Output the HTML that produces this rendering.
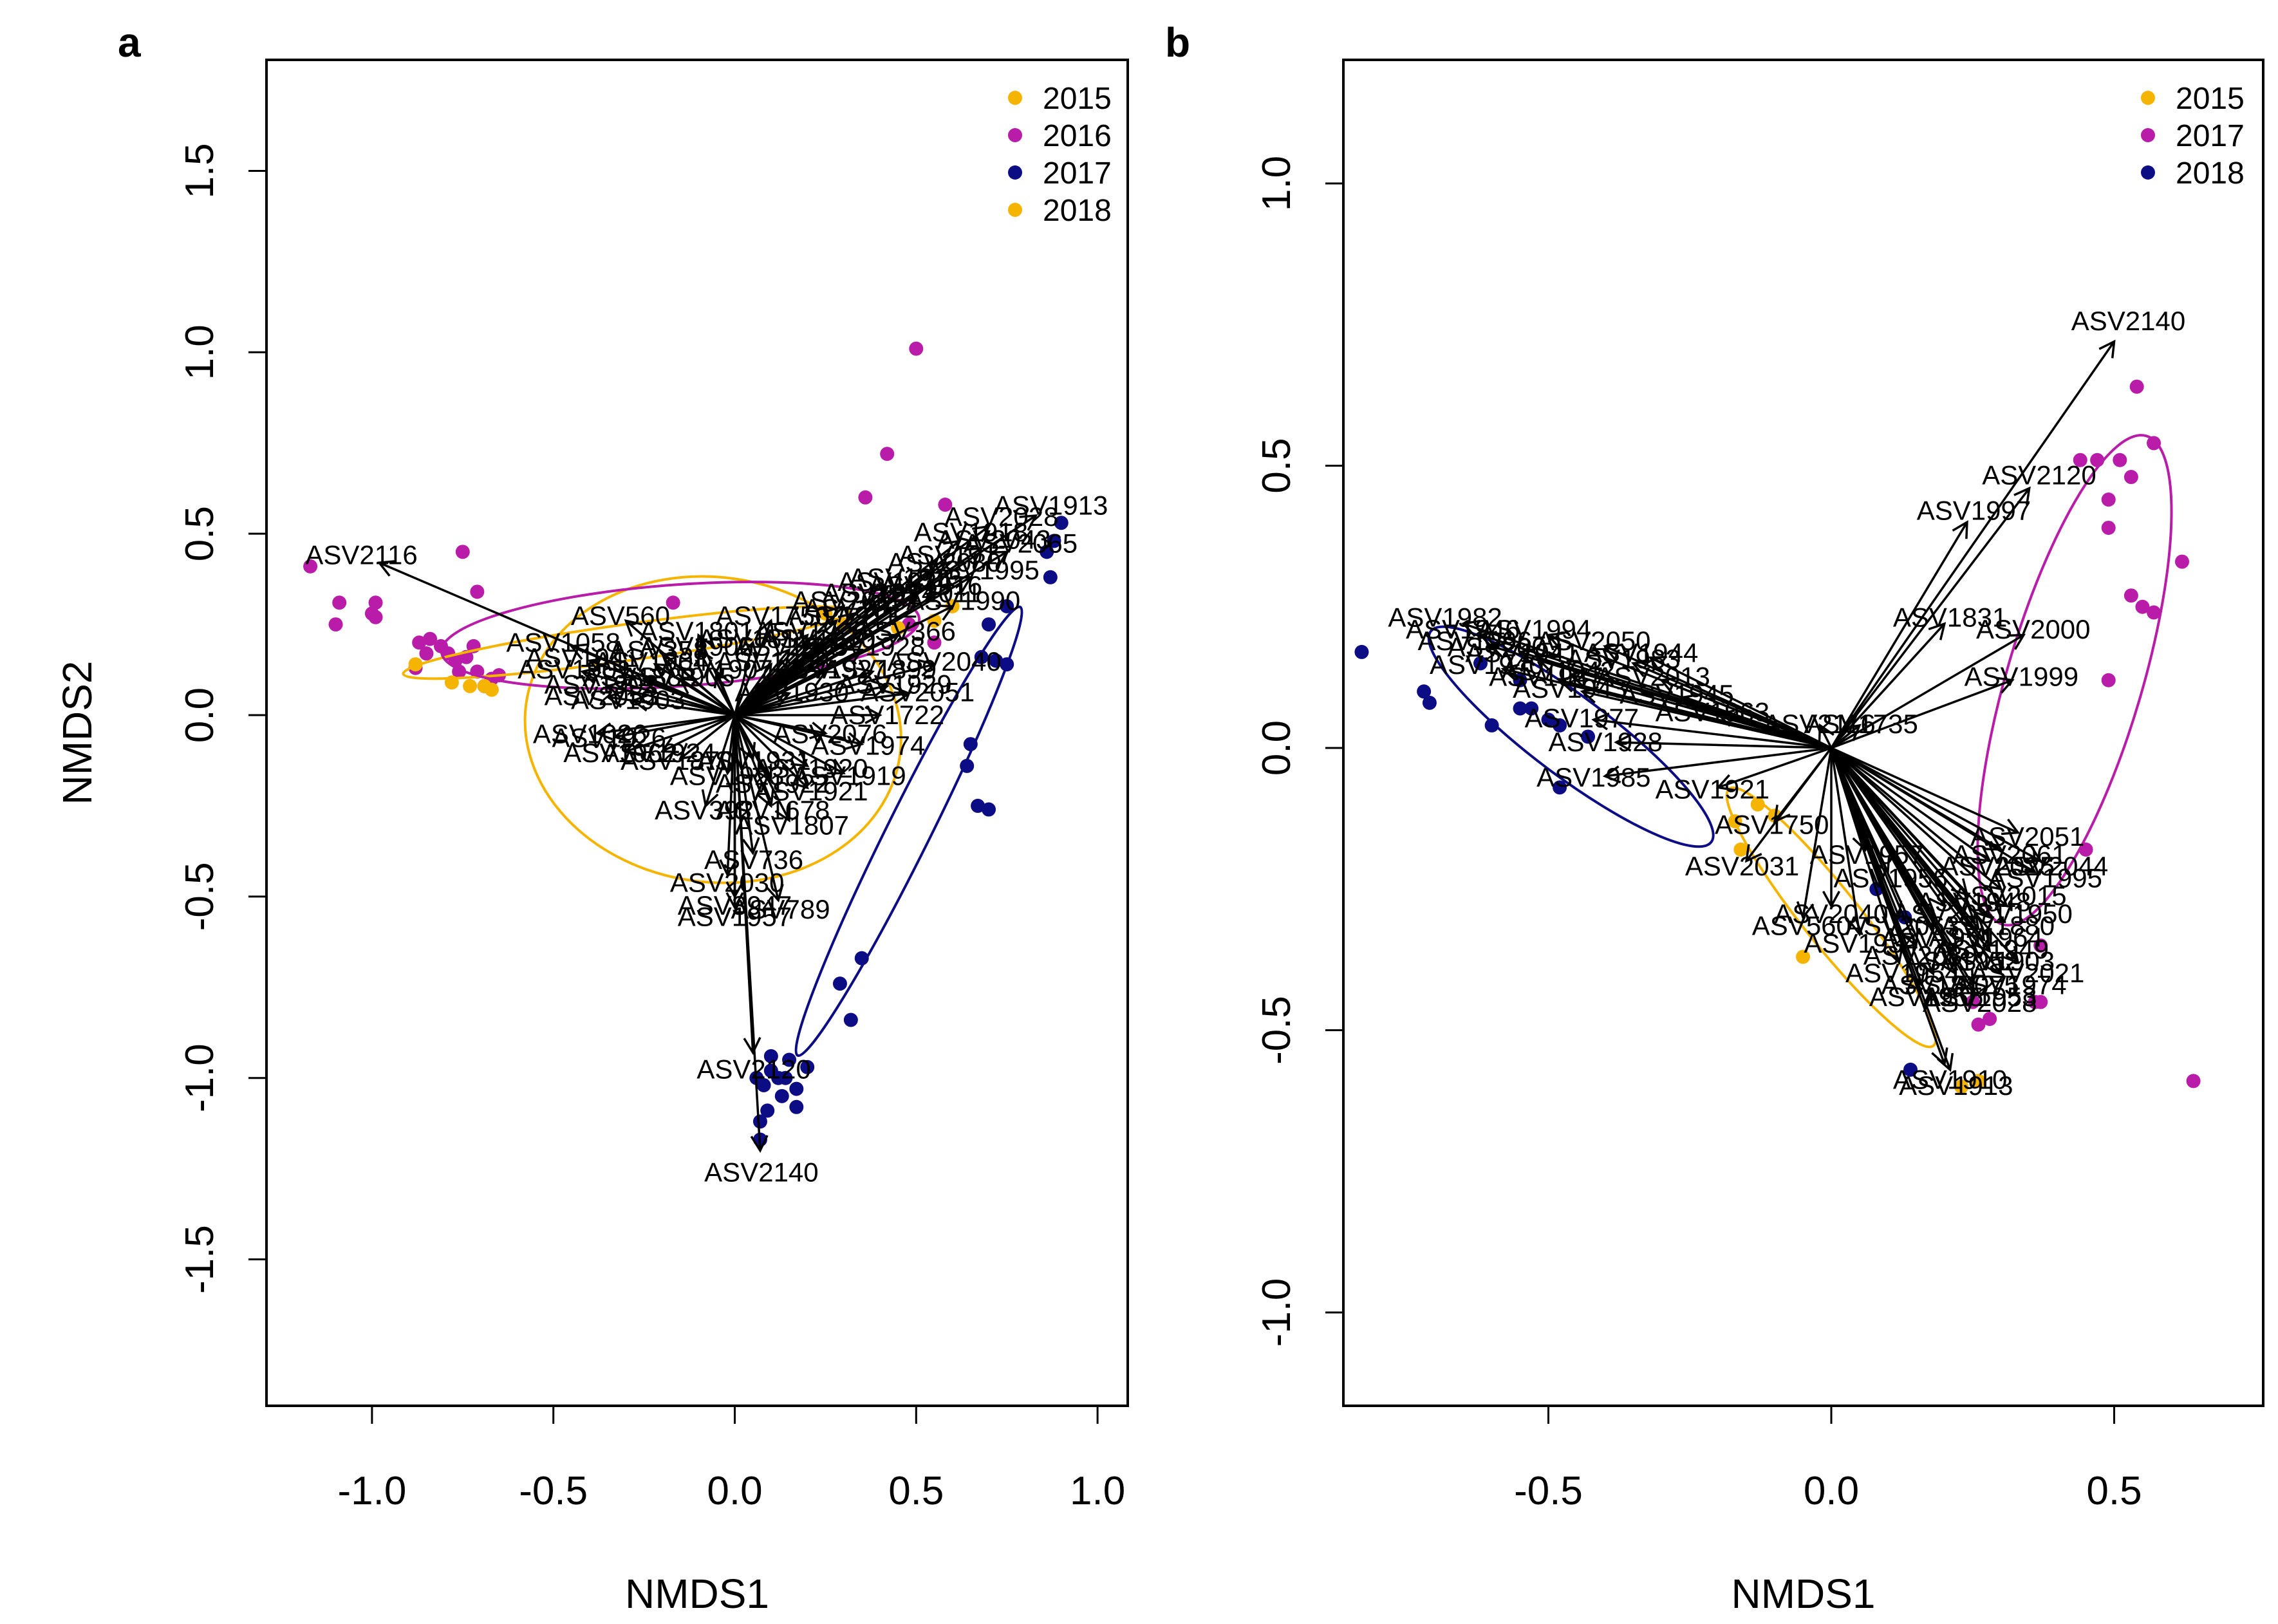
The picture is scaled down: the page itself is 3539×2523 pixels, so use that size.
<!DOCTYPE html>
<html><head><meta charset="utf-8"><style>
html,body{margin:0;padding:0;background:#fff}
svg{display:block;font-family:"Liberation Sans",Arial,sans-serif}
</style></head><body>
<svg id="chart" width="3539" height="2523" viewBox="0 0 3539 2523" xmlns="http://www.w3.org/2000/svg">
<g id="pa"></g>
<g id="pb"></g>
</svg>
<script>
// ---------- Panel a data ----------
const aYears = ["2015","2016","2017","2018"];
const aPtX2016 = [-1.17,-1.1,-1.09,-0.99,-0.99,-1.0,-0.87,-0.85,-0.84,-0.81,-0.79,-0.77,-0.76,-0.74,-0.72,-0.71,-0.69,-0.67,-0.65,-0.88,-0.75,-0.71,-0.17,0.36,0.42,0.5,0.58,0.55,0.48];
const aPtY2016 = [0.41,0.25,0.31,0.31,0.27,0.28,0.2,0.17,0.21,0.19,0.17,0.15,0.12,0.16,0.19,0.12,0.08,0.1,0.11,0.13,0.45,0.34,0.31,0.6,0.72,1.01,0.58,0.2,0.25];
const aPtX2018 = [-0.88,-0.78,-0.73,-0.69,-0.67,0.55,0.6,0.45,0.25,0.3];
const aPtY2018 = [0.14,0.09,0.08,0.08,0.07,0.26,0.3,0.24,0.28,0.25];
const aPtX2017 = [0.9,0.88,0.86,0.87,0.75,0.7,0.72,0.75,0.68,0.65,0.64,0.67,0.7,0.35,0.29,0.32,0.2,0.12,0.1,0.14,0.17,0.06,0.08,0.13,0.09,0.17,0.07,0.07,0.15,0.1];
const aPtY2017 = [0.53,0.48,0.45,0.38,0.3,0.25,0.15,0.14,0.16,-0.08,-0.14,-0.25,-0.26,-0.67,-0.74,-0.84,-0.97,-1.0,-0.98,-1.0,-1.03,-1.0,-1.02,-1.05,-1.09,-1.08,-1.12,-1.17,-0.95,-0.94];
const aArrowLabel = ["ASV2116","ASV2140","ASV2120","ASV560","ASV1058","ASV358","ASV1913","ASV2028","ASV2065","ASV2043","ASV1995","ASV2040","ASV2051","ASV366","ASV736","ASV2030","ASV3947","ASV1957","ASV789","ASV1678","ASV1807","ASV392","ASV1026","ASV2053","ASV1041","ASV1870","ASV1920","ASV1974","ASV1722","ASV2003","ASV1934","ASV2080","ASV1925","ASV1750","ASV1801","ASV1883","ASV1811","ASV1990","ASV2011","ASV1962","ASV2076","ASV1899",
"ASV1901","ASV1902","ASV1903","ASV1904","ASV1905","ASV1906","ASV1907","ASV1908","ASV1909","ASV1910","ASV1911","ASV1912","ASV1914","ASV1915","ASV1916","ASV1917","ASV1918","ASV1919","ASV1921","ASV1922","ASV1923","ASV1924","ASV1926","ASV1927","ASV1928","ASV1929","ASV1930","ASV1931"];
const aArrowX = [-0.98,0.07,0.05,-0.3,-0.45,-0.2,0.83,0.7,0.75,0.68,0.65,0.55,0.48,0.45,0.05,-0.02,0.0,0.0,0.12,0.1,0.15,-0.08,-0.38,-0.35,-0.4,-0.15,0.2,0.35,0.4,0.3,0.42,0.55,0.2,0.1,-0.1,-0.25,0.05,0.6,0.5,-0.3,0.25,0.38,
-0.42,-0.35,-0.28,-0.22,-0.15,-0.1,-0.05,0.1,0.15,0.22,0.28,0.33,0.38,0.45,0.5,0.58,0.62,0.3,0.2,0.1,-0.02,-0.2,-0.33,0.25,0.35,0.42,0.15,0.05];
const aArrowY = [0.42,-1.2,-0.93,0.26,0.19,0.17,0.55,0.52,0.45,0.46,0.38,0.14,0.06,0.22,-0.38,-0.44,-0.5,-0.53,-0.51,-0.25,-0.29,-0.25,-0.05,0.05,0.15,-0.12,-0.14,-0.08,0.0,0.3,0.35,0.4,0.22,0.26,0.22,0.1,0.2,0.3,0.32,-0.1,-0.05,0.12,
0.12,0.08,0.04,0.14,0.1,0.18,0.12,0.14,0.18,0.2,0.26,0.28,0.32,0.36,0.34,0.42,0.48,-0.16,-0.2,-0.18,-0.16,-0.1,-0.06,0.12,0.18,0.08,0.06,-0.12];
const aEllCx = [-0.06,-0.3,-0.15,0.48];
const aEllCy = [-0.04,0.2,0.22,-0.32];
const aEllA = [0.52,0.62,0.66,0.69];
const aEllB = [0.42,0.05,0.14,0.06];
const aEllAng = [-8,8,4,63.6];
const aEllYear = ["2015","2018","2016","2017"];
const aXTicks = [-1.0,-0.5,0.0,0.5,1.0];
const aYTicks = [-1.5,-1.0,-0.5,0.0,0.5,1.0,1.5];

// ---------- Panel b data ----------
const bYears = ["2015","2017","2018"];
const bPtX2018 = [-0.83,-0.72,-0.71,-0.6,-0.55,-0.53,-0.5,-0.48,-0.43,-0.48,-0.62,-0.55,0.14,0.13,0.08];
const bPtY2018 = [0.17,0.1,0.08,0.04,0.07,0.07,0.05,0.04,0.02,-0.07,0.15,0.12,-0.57,-0.3,-0.25];
const bPtX2017 = [0.54,0.57,0.44,0.47,0.51,0.53,0.49,0.49,0.53,0.55,0.57,0.62,0.49,0.64,0.45,0.37,0.37,0.26,0.25,0.28,0.23,0.36];
const bPtY2017 = [0.64,0.54,0.51,0.51,0.51,0.48,0.44,0.39,0.27,0.25,0.24,0.33,0.12,-0.59,-0.18,-0.45,-0.35,-0.49,-0.45,-0.48,-0.6,-0.45];
const bPtX2015 = [-0.16,-0.13,-0.05,-0.17,-0.1,0.26,0.23];
const bPtY2015 = [-0.18,-0.1,-0.37,-0.13,-0.12,-0.59,-0.6];
const bArrowLabel = ["ASV2140","ASV2120","ASV1997","ASV1831","ASV2000","ASV1999","ASV1735","ASV2116","ASV1982","ASV1994","ASV2050","ASV1983","ASV2003","ASV2013","ASV1963","ASV1977","ASV1928","ASV1985","ASV1921","ASV1750","ASV2031","ASV560","ASV2040","ASV1934","ASV1812","ASV2028","ASV1913","ASV1910","ASV2051","ASV2061","ASV2025","ASV2044","ASV1995","ASV2015","ASV1880","ASV1964","ASV1903","ASV2021","ASV1974","ASV2075","ASV2089","ASV2063","ASV2071","ASV1996",
"ASV1940","ASV1941","ASV1942","ASV1943","ASV1944","ASV1945","ASV1946","ASV1947","ASV1948","ASV1949","ASV1950","ASV1951","ASV1952","ASV1953","ASV1954","ASV1955","ASV1956","ASV1957"];
const bArrowX = [0.5,0.35,0.24,0.2,0.34,0.32,0.05,-0.02,-0.65,-0.5,-0.4,-0.35,-0.55,-0.3,-0.2,-0.42,-0.38,-0.4,-0.2,-0.1,-0.15,-0.05,0.0,0.05,0.18,0.25,0.21,0.2,0.33,0.3,0.28,0.37,0.36,0.3,0.28,0.26,0.28,0.33,0.3,0.22,0.15,0.12,0.2,-0.6,
-0.58,-0.52,-0.46,-0.44,-0.32,-0.26,-0.62,-0.48,0.24,0.27,0.31,0.18,0.22,0.25,0.12,0.16,0.1,0.06];
const bArrowY = [0.72,0.46,0.4,0.22,0.2,0.12,0.04,0.04,0.22,0.2,0.18,0.15,0.17,0.12,0.06,0.05,0.01,-0.05,-0.07,-0.13,-0.2,-0.3,-0.28,-0.33,-0.4,-0.43,-0.57,-0.56,-0.15,-0.18,-0.2,-0.2,-0.22,-0.25,-0.3,-0.32,-0.36,-0.38,-0.4,-0.4,-0.35,-0.3,-0.28,0.18,
0.14,0.16,0.13,0.1,0.16,0.09,0.2,0.12,-0.26,-0.34,-0.28,-0.32,-0.36,-0.42,-0.38,-0.42,-0.22,-0.18];
const bEllCx = [-0.46,0.43,0.0];
const bEllCy = [0.02,0.12,-0.3];
const bEllA = [0.31,0.45,0.29];
const bEllB = [0.07,0.12,0.05];
const bEllAng = [-36.9,73.6,-51.5];
const bEllYear = ["2018","2017","2015"];
const bXTicks = [-0.5,0.0,0.5];
const bYTicks = [-1.0,-0.5,0.0,0.5,1.0];

const COL = {"2015":"#f5b400","2016":"#b81ca8","2017":"#0c0c85","2018":"#f5b400"};
const COLB = {"2015":"#f5b400","2017":"#b81ca8","2018":"#0c0c85"};
const NS = "http://www.w3.org/2000/svg";
function mk(parent, tag, attrs, text){
  const e = document.createElementNS(NS, tag);
  for (const k in attrs) e.setAttribute(k, attrs[k]);
  if (text !== undefined) e.textContent = text;
  parent.appendChild(e);
  return e;
}

function drawPanel(g, cfg){
  const {L,R,T,B,x0px,xUnit,y0px,yUnit} = cfg;
  const sx = v => x0px + v*xUnit;
  const sy = v => y0px - v*yUnit;
  const fr = mk(g,'rect',{x:L,y:T,width:R-L,height:B-T,fill:'none',stroke:'#000','stroke-width':4});
  
  
  cfg.xTicks.forEach(v=>{
    const t = mk(g,'line',{x1:sx(v),x2:sx(v),y1:B,y2:B+28,stroke:'#000','stroke-width':3});
    
    
    const l = mk(g,'text',{x:sx(v),y:2337,'font-size':62,'text-anchor':'middle'},v.toFixed(1));
    
    
  });
  cfg.yTicks.forEach(v=>{
    const t = mk(g,'line',{x1:L-28,x2:L,y1:sy(v),y2:sy(v),stroke:'#000','stroke-width':3});
    
    
    const lx = L-105;
    const l = mk(g,'text',{x:lx,y:sy(v),'font-size':62,'text-anchor':'middle',transform:`rotate(-90 ${lx} ${sy(v)})`,dy:22},v.toFixed(1));
    
    
  });
  const xt = mk(g,'text',{x:(L+R)/2,y:2498,'font-size':64,'text-anchor':'middle'},'NMDS1');
  
  
  if (cfg.yTitle){
    const yx = 120, yy = (T+B)/2;
    const yt = mk(g,'text',{x:yx,y:yy,'font-size':64,'text-anchor':'middle',transform:`rotate(-90 ${yx} ${yy})`,dy:22},'NMDS2');
    
    
  }
  const pl = mk(g,'text',{x:cfg.letterX,y:88,'font-size':64,'font-weight':'bold'},cfg.letter);
  
  
  const cp = mk(g,'clipPath',{id:'clip'+cfg.letter});
  mk(cp,'rect',{x:L,y:T,width:R-L,height:B-T});
  const inner = mk(g,'g',{'clip-path':`url(#clip${cfg.letter})`});
  cfg.series.forEach(s=>{
    s.x.forEach((xv,i)=>{
      const c = mk(inner,'circle',{cx:sx(xv),cy:sy(s.y[i]),r:11,fill:s.color});
      
      
    });
  });
  cfg.ell.cx.forEach((cx,i)=>{
    const px = sx(cx), py = sy(cfg.ell.cy[i]);
    const e = mk(inner,'ellipse',{cx:px,cy:py,rx:cfg.ell.a[i]*xUnit,ry:cfg.ell.b[i]*yUnit,fill:'none',stroke:cfg.ell.color[i],'stroke-width':4,transform:`rotate(${-cfg.ell.ang[i]} ${px} ${py})`});
    
    
  });
  const ox = sx(0), oy = sy(0);
  cfg.arrows.x.forEach((xv,i)=>{
    const ex = sx(xv), ey = sy(cfg.arrows.y[i]);
    const ang = Math.atan2(ey-oy, ex-ox);
    const h = 26, sp = 0.5;
    const d = `M${ox},${oy}L${ex},${ey}M${ex-h*Math.cos(ang-sp)},${ey-h*Math.sin(ang-sp)}L${ex},${ey}L${ex-h*Math.cos(ang+sp)},${ey-h*Math.sin(ang+sp)}`;
    const p = mk(inner,'path',{d:d,stroke:'#000','stroke-width':3.5,fill:'none'});
    
    
    const lx = ox + (ex-ox)*1.05, ly = oy + (ey-oy)*1.05;
    const t = mk(inner,'text',{x:lx,y:ly+14,'font-size':42,'text-anchor':'middle'},cfg.arrows.label[i]);
    
    
  });
  cfg.legend.forEach((yr,i)=>{
    const y = 152 + i*58;
    const c = mk(g,'circle',{cx:cfg.legX,cy:y,r:11,fill:cfg.legCol[yr]});
    
    
    const t = mk(g,'text',{x:cfg.legX+43,y:y+17,'font-size':48},yr);
    
    
  });
}

drawPanel(document.getElementById('pa'),{
  L:414,R:1752,T:93,B:2184,x0px:1141.5,xUnit:563.6,y0px:1111,yUnit:563.7,
  xTicks:aXTicks,yTicks:aYTicks,yTitle:true,letter:'a',letterX:183,
  series:[
    {year:'2016',x:aPtX2016,y:aPtY2016,color:COL['2016']},
    {year:'2018',x:aPtX2018,y:aPtY2018,color:COL['2018']},
    {year:'2017',x:aPtX2017,y:aPtY2017,color:COL['2017']}],
  ell:{cx:aEllCx,cy:aEllCy,a:aEllA,b:aEllB,ang:aEllAng,year:aEllYear,color:aEllYear.map(y=>COL[y])},
  arrows:{x:aArrowX,y:aArrowY,label:aArrowLabel},
  legend:aYears,legCol:COL,legX:1577
});
drawPanel(document.getElementById('pb'),{
  L:2087,R:3516,T:93,B:2184,x0px:2845,xUnit:879,y0px:1162,yUnit:877,
  xTicks:bXTicks,yTicks:bYTicks,yTitle:false,letter:'b',letterX:1810,
  series:[
    {year:'2018',x:bPtX2018,y:bPtY2018,color:COLB['2018']},
    {year:'2017',x:bPtX2017,y:bPtY2017,color:COLB['2017']},
    {year:'2015',x:bPtX2015,y:bPtY2015,color:COLB['2015']}],
  ell:{cx:bEllCx,cy:bEllCy,a:bEllA,b:bEllB,ang:bEllAng,year:bEllYear,color:bEllYear.map(y=>COLB[y])},
  arrows:{x:bArrowX,y:bArrowY,label:bArrowLabel},
  legend:bYears,legCol:COLB,legX:3337
});
</script>
</body></html>
